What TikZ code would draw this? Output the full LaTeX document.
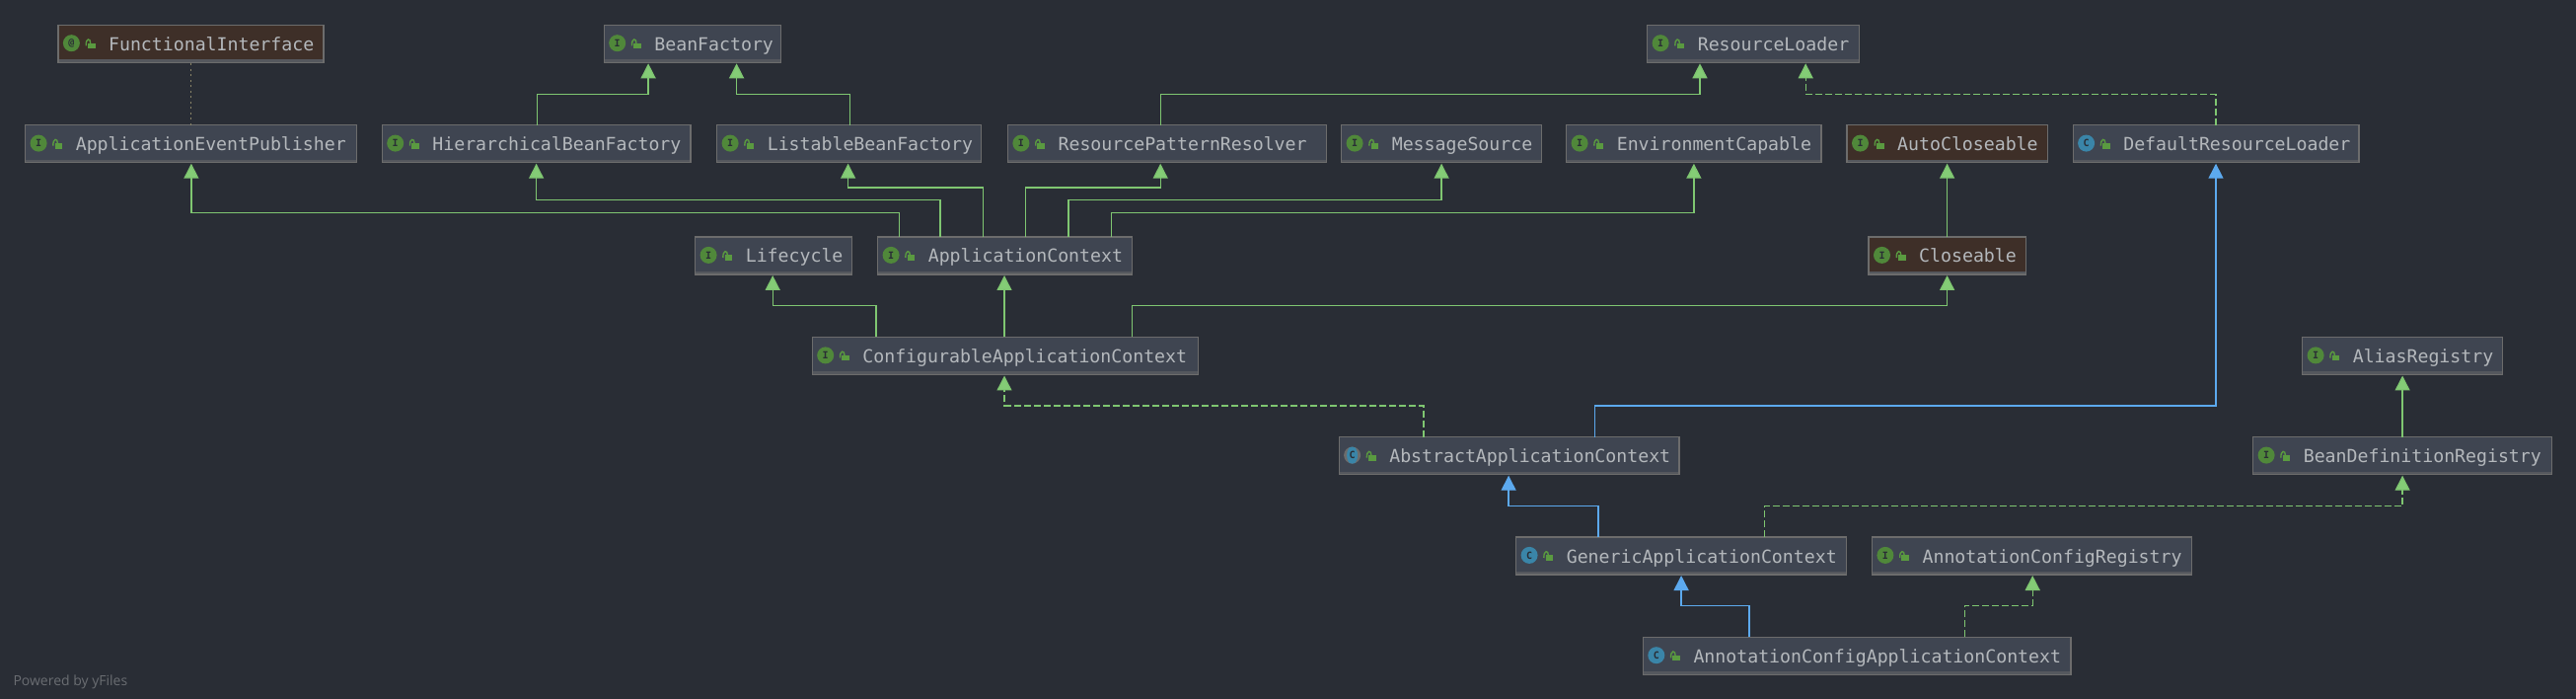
\documentclass[tikz,border=0pt]{standalone}
\usepackage{fontspec}
\setmonofont{DejaVu Sans Mono}
\setsansfont{Open Sans}
\usetikzlibrary{arrows.meta}
\definecolor{bgc}{HTML}{292D35}
\definecolor{nodec}{HTML}{3F4551}
\definecolor{brownc}{HTML}{3E2F28}
\definecolor{borderc}{HTML}{6C6C6C}
\definecolor{bandc}{HTML}{55585E}
\definecolor{textc}{HTML}{B4B8BC}
\definecolor{greenl}{HTML}{7FC671}
\definecolor{greenh}{HTML}{84CC76}
\definecolor{bluel}{HTML}{5CA9EE}
\definecolor{icongreen}{HTML}{50883A}
\definecolor{iconblue}{HTML}{3A85A8}
\definecolor{lockc}{HTML}{5A9A40}
\definecolor{dotc}{HTML}{8A8468}
\definecolor{footc}{HTML}{6A6D72}
\tikzset{
  x=1pt,y=-1pt,
  umlnode/.style={draw=borderc,line width=1.2pt,fill=nodec,inner sep=0pt,outer sep=0pt,minimum height=38pt,anchor=north west},
  brownnode/.style={umlnode,fill=brownc},
  icbase/.style={circle,inner sep=0pt,minimum size=17pt,text=bgc,font=\ttfamily\bfseries\fontsize{10}{10}\selectfont},
  icI/.style={icbase,fill=icongreen},
  icC/.style={icbase,fill=iconblue},
  icA/.style={icbase,fill=borderc,path picture={\fill[iconblue] (path picture bounding box.center) ellipse (5.5pt and 9pt);}},
  umltext/.style={anchor=base west,inner sep=0pt,text=textc,font=\ttfamily\fontsize{18.2}{20}\selectfont},
  tipg/.style={-{Triangle[width=15pt,length=15pt,fill=greenh]},shorten >=1pt},
  tipb/.style={-{Triangle[width=15pt,length=15pt,fill=bluel]},shorten >=1pt},
  extg/.style={draw=greenl,line width=1.4pt,tipg},
  impg/.style={draw=greenl,line width=1.4pt,tipg,dash pattern=on 7pt off 3pt},
  extb/.style={draw=bluel,line width=1.4pt,tipb},
  dotl/.style={draw=dotc,line width=1pt,dash pattern=on 2pt off 3.5pt},
}
% name, x0, x1, y, box style, icon style, letter, text
\newcommand{\umlbox}[8]{%
  \pgfmathsetmacro{\boxw}{#3-#2}
  \node[#5,minimum width=\boxw pt] (#1) at (#2,#4) {};
  \fill[bandc] ([xshift=.6pt,yshift=.6pt]#1.south west) rectangle ([xshift=-.6pt,yshift=3pt]#1.south east);
  \node[#6] (#1-icon) at ([xshift=13.5pt,yshift=-18.4pt]#1.north west) {#7};
  \begin{scope}[shift={(#1.north west)}]
    \fill[lockc] (30,18.3) rectangle (37.7,24);
    \draw[lockc,line width=1.4pt] (28.3,21) .. controls (27.8,13) and (33,13) .. (32.8,18.5);
  \end{scope}
  \node[umltext] (#1-text) at ([xshift=51pt,yshift=-26pt]#1.north west) {#8};
}
% style, from, to, x start, y middle, x end
\newcommand{\elbow}[6]{\draw[#1] (#2.north -| #4,0) -- (#4,#5) -- (#6,#5) -- (#3.south -| #6,0);}
\newcommand{\straight}[4]{\draw[#1] (#2.north -| #4,0) -- (#3.south -| #4,0);}
\begin{document}
\begin{tikzpicture}
\useasboundingbox (0,0) rectangle (2611,708);
\fill[bgc] (0,0) rectangle (2611,708);
\begin{scope}[xshift=.6pt]
% row 1
\umlbox{FI}{58.3}{327.4}{25.3}{brownnode}{icI}{@}{FunctionalInterface}
\umlbox{BF}{611.6}{791}{25.3}{umlnode}{icI}{I}{BeanFactory}
\umlbox{RL}{1669}{1883.7}{25.3}{umlnode}{icI}{I}{ResourceLoader}
% row 2
\umlbox{AEP}{25}{360.5}{126.7}{umlnode}{icI}{I}{ApplicationEventPublisher}
\umlbox{HBF}{386.6}{699.3}{126.7}{umlnode}{icI}{I}{HierarchicalBeanFactory}
\umlbox{LBF}{726}{994}{126.7}{umlnode}{icI}{I}{ListableBeanFactory}
\umlbox{RPR}{1020.8}{1344}{126.7}{umlnode}{icI}{I}{ResourcePatternResolver}
\umlbox{MS}{1359}{1562}{126.7}{umlnode}{icI}{I}{MessageSource}
\umlbox{EC}{1587}{1845.4}{126.7}{umlnode}{icI}{I}{EnvironmentCapable}
\umlbox{ACL}{1871.4}{2074.5}{126.7}{brownnode}{icI}{I}{AutoCloseable}
\umlbox{DRL}{2100.5}{2390.3}{126.7}{umlnode}{icC}{C}{DefaultResourceLoader}
% row 3
\umlbox{LC}{704}{862.6}{240}{umlnode}{icI}{I}{Lifecycle}
\umlbox{AC}{889}{1147}{240}{umlnode}{icI}{I}{ApplicationContext}
\umlbox{CL}{1893.4}{2052.6}{240}{brownnode}{icI}{I}{Closeable}
% row 4
\umlbox{CAC}{822.6}{1214}{341.5}{umlnode}{icI}{I}{ConfigurableApplicationContext}
\umlbox{AR}{2333}{2536}{341.5}{umlnode}{icI}{I}{AliasRegistry}
% row 5
\umlbox{AAC}{1356.5}{1701.4}{442.7}{umlnode}{icA}{C}{AbstractApplicationContext}
\umlbox{BDR}{2283}{2586}{442.7}{umlnode}{icI}{I}{BeanDefinitionRegistry}
% row 6
\umlbox{GAC}{1536}{1870.8}{544}{umlnode}{icC}{C}{GenericApplicationContext}
\umlbox{ACR}{1896.8}{2221}{544}{umlnode}{icI}{I}{AnnotationConfigRegistry}
% row 7
\umlbox{ACAC}{1664.7}{2098.4}{645.3}{umlnode}{icC}{C}{AnnotationConfigApplicationContext}
% connectors
\draw[dotl] (AEP.north -| 193.3,0) -- (FI.south -| 193.3,0);
\elbow{extg}{HBF}{BF}{543.6}{95.3}{656.5}
\elbow{extg}{LBF}{BF}{861}{95.3}{746}
\elbow{extg}{RPR}{RL}{1175.6}{95.3}{1722.4}
\elbow{impg}{DRL}{RL}{2245.4}{95.3}{1829.6}
\elbow{extg}{AC}{AEP}{911}{215.3}{193.3}
\elbow{extg}{AC}{HBF}{952.5}{202.3}{543}
\elbow{extg}{AC}{LBF}{996}{190}{859}
\elbow{extg}{AC}{RPR}{1039}{190}{1175.6}
\elbow{extg}{AC}{MS}{1082.4}{202.3}{1460.5}
\elbow{extg}{AC}{EC}{1125.7}{215.3}{1716.3}
\straight{extg}{CL}{ACL}{1973}
\elbow{extg}{CAC}{LC}{887.5}{309.7}{782.6}
\straight{extg}{CAC}{AC}{1017.4}
\elbow{extg}{CAC}{CL}{1147}{309.7}{1973}
\elbow{impg}{AAC}{CAC}{1442.2}{411}{1017.4}
\elbow{extb}{AAC}{DRL}{1615.7}{411}{2245.4}
\straight{extg}{BDR}{AR}{2434.5}
\elbow{extb}{GAC}{AAC}{1619.3}{512.3}{1528.5}
\elbow{impg}{GAC}{BDR}{1787.7}{512.3}{2434.5}
\elbow{extb}{ACAC}{GAC}{1772.3}{613.3}{1703.5}
\elbow{impg}{ACAC}{ACR}{1990.7}{613.3}{2059.6}
\end{scope}
\node[anchor=base west,inner sep=0pt,text=footc,font=\sffamily\fontsize{14}{14}\selectfont] (foot) at (13.3,694) {Powered by yFiles};
\end{tikzpicture}
\end{document}
